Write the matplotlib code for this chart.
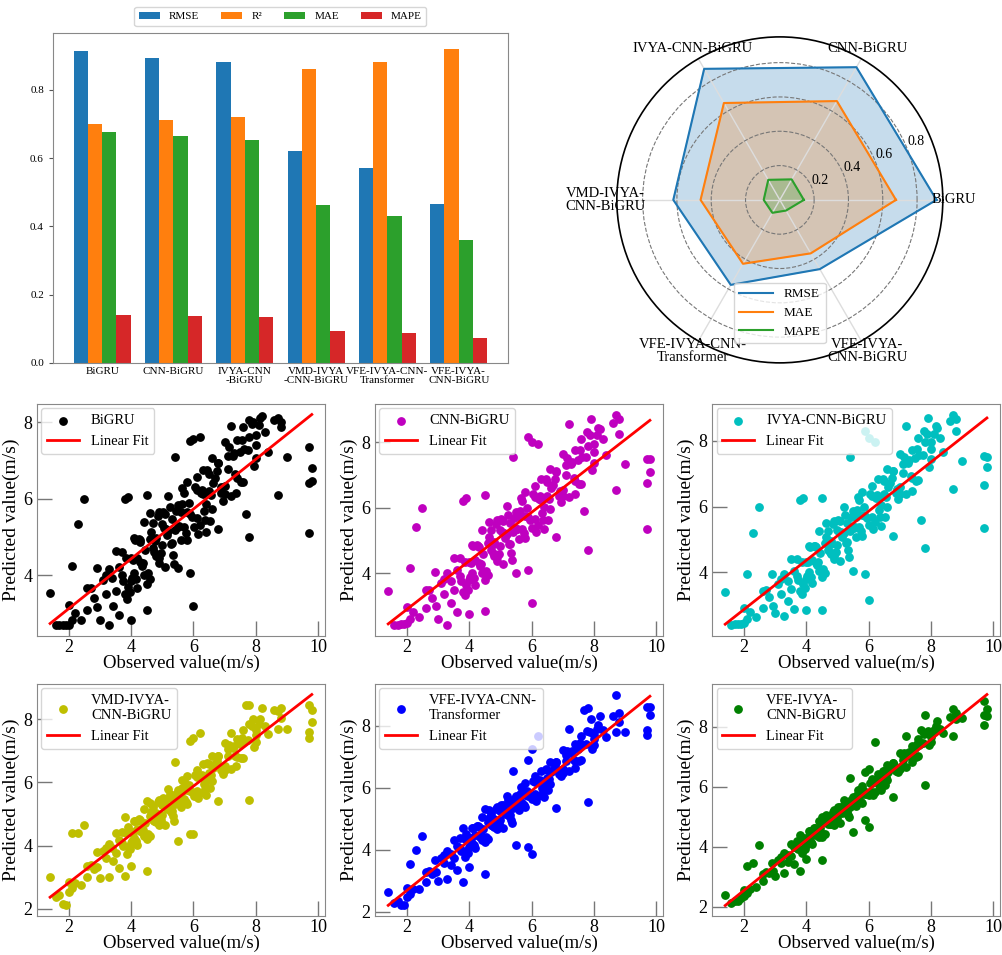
import numpy as np
import matplotlib
matplotlib.use("Agg")
import matplotlib.pyplot as plt
from matplotlib.ticker import MultipleLocator

plt.rcParams['font.family'] = ['Liberation Serif', 'DejaVu Serif']

# ---- metrics (bar + radar) ----
models = ['BiGRU', 'CNN-BiGRU', 'IVYA-CNN-BiGRU', 'VMD-IVYA-CNN-BiGRU',
          'VFE-IVYA-CNN-Transformer', 'VFE-IVYA-CNN-BiGRU']
bar_labels = ['BiGRU', 'CNN-BiGRU', 'IVYA-CNN\n-BiGRU', 'VMD-IVYA\n-CNN-BiGRU',
              'VFE-IVYA-CNN-\nTransformer', 'VFE-IVYA-\nCNN-BiGRU']
radar_labels = ['BiGRU', 'CNN-BiGRU', 'IVYA-CNN-BiGRU', 'VMD-IVYA-\nCNN-BiGRU',
                'VFE-IVYA-CNN-\nTransformer', 'VFE-IVYA-\nCNN-BiGRU']
rmse = [0.913, 0.893, 0.882, 0.621, 0.572, 0.466]
r2 = [0.700, 0.712, 0.720, 0.860, 0.881, 0.921]
mae = [0.677, 0.665, 0.652, 0.462, 0.430, 0.360]
mape = [0.140, 0.138, 0.135, 0.094, 0.087, 0.072]

# ---- observed vs predicted (same observed samples for every model) ----
observed = [
    1.4, 1.6, 1.7, 1.8, 1.9, 2.0, 2.0, 2.1, 2.1, 2.2, 2.3, 2.4, 2.5, 2.6, 2.6, 2.7, 2.8,
    2.9, 3.0, 3.1, 3.2, 3.3, 3.3, 3.4, 3.5, 3.5, 3.6, 3.7, 3.7,
    3.8, 3.8, 3.9, 3.9, 4.0, 4.0, 4.0, 4.1, 4.1, 4.2, 4.2, 4.3, 4.3, 4.4, 4.4, 4.5, 4.5,
    4.6, 4.6, 4.7, 4.7, 4.8, 4.8, 4.9, 4.9, 5.0, 5.0, 5.1, 5.1, 5.2, 5.2, 5.3, 5.3,
    5.4, 5.4, 5.5, 5.5, 5.6, 5.6, 5.7, 5.7, 5.8, 5.8, 5.9, 5.9, 6.0, 6.0,
    6.1, 6.1, 6.2, 6.2, 6.3, 6.3, 6.4, 6.4, 6.5, 6.5, 6.6, 6.6, 6.7,
    6.8, 6.8, 6.9, 7.0, 7.0, 7.1, 7.2, 7.2, 7.3, 7.4, 7.4, 7.5, 7.6, 7.6,
    7.7, 7.8, 7.8, 7.9, 8.0, 8.0, 8.1, 8.2, 8.3, 8.4, 8.6, 8.7, 8.7, 8.8, 8.8,
    9.0, 9.7, 9.7, 9.7, 9.8, 9.8,
    3.75, 3.85, 3.95, 4.05, 4.15, 4.25, 4.35, 4.45, 4.55, 4.65, 4.75, 4.85, 4.95,
    5.05, 5.15, 5.25, 5.35, 5.45, 5.55, 5.65, 5.75, 5.85, 5.95, 6.05, 6.15, 6.25,
    6.35, 6.45, 6.55, 6.75, 6.95, 7.15, 7.35, 7.55, 7.75, 7.95, 8.15,
    3.62, 3.88, 4.12, 4.38, 4.62, 4.88, 5.12, 5.38, 5.62, 5.88, 6.12, 6.38, 6.62,
    6.88, 7.12, 7.38, 7.62, 7.88, 4.02, 4.28, 4.52, 4.78, 5.02, 5.28, 5.52, 5.78,
    6.02, 6.28, 6.52, 6.78, 7.02, 7.28, 7.52, 7.78, 8.02, 3.42, 3.18, 2.92]

pred_bigru = [
    3.55, 2.70, 2.69, 2.70, 2.69, 3.22, 2.70, 4.25, 2.83, 3.02, 5.35, 2.83, 6.00, 3.68, 3.09, 3.68, 3.41,
    4.20, 2.84, 3.89, 3.51, 2.70, 4.17, 3.92, 4.64, 3.60, 2.97, 4.01, 4.60,
    6.00, 3.50, 6.05, 3.70, 2.84, 4.44, 3.85, 4.97, 4.06, 4.46, 3.67, 4.86, 4.34, 5.39, 4.02, 6.10, 3.10,
    4.95, 3.91, 5.36, 4.70, 4.97, 4.51, 5.64, 4.33, 5.33, 4.80, 5.59, 4.22, 5.15, 6.06, 4.83, 5.48,
    7.10, 5.19, 4.20, 5.84, 4.93, 5.65, 6.16, 5.25, 5.65, 4.93, 7.50, 4.05, 3.20, 7.55,
    6.22, 5.50, 7.60, 5.31, 6.11, 6.76, 5.85, 5.14, 6.65, 6.20, 5.74, 7.05, 6.54,
    5.20, 6.94, 6.30, 7.49, 6.12, 6.78, 7.90, 6.07, 7.19, 7.53, 6.55, 7.21, 7.87, 6.44,
    5.60, 5.00, 7.60, 8.00, 7.65, 7.06, 7.93, 8.15, 7.75, 7.23, 8.05, 6.10, 8.10, 8.00, 7.86,
    7.10, 5.10, 7.35, 6.40, 6.80, 6.45,
    3.86, 4.46, 3.56, 4.41, 3.90, 4.95, 4.25, 4.65, 4.07, 5.13, 4.61, 5.54, 4.57,
    5.24, 5.04, 5.78, 4.54, 5.67, 5.29, 6.27, 5.11, 5.90, 5.52, 6.31, 5.09, 6.14,
    5.69, 6.74, 6.10, 6.71, 5.95, 7.34, 6.64, 7.52, 7.28, 6.84, 8.10,
    4.21, 3.37, 4.92, 4.33, 5.62, 4.44, 5.22, 4.30, 5.85, 5.59, 6.56, 5.45, 6.42,
    6.15, 7.12, 6.14, 7.30, 7.95, 3.93, 4.91, 3.78, 4.90, 5.66, 4.82, 5.26, 6.43,
    5.25, 6.22, 5.42, 6.93, 6.32, 7.11, 6.44, 8.05, 7.40, 3.21, 4.01, 3.16]

pred_cnn = [
    3.45, 2.43, 2.43, 2.45, 2.46, 2.97, 2.48, 4.15, 2.61, 2.81, 5.40, 2.65, 6.00, 3.48, 2.92, 3.49, 3.25,
    4.02, 2.60, 3.71, 3.36, 2.40, 4.00, 3.77, 4.47, 3.48, 2.80, 3.90, 4.46,
    6.20, 3.43, 6.30, 3.64, 2.75, 4.35, 3.79, 4.87, 4.00, 4.39, 3.65, 4.79, 4.30, 5.31, 4.00, 6.40, 2.85,
    4.92, 3.93, 5.32, 4.70, 4.96, 4.53, 5.61, 4.37, 5.32, 4.82, 5.59, 4.29, 5.19, 6.06, 4.90, 5.52,
    7.55, 5.26, 4.00, 5.88, 5.03, 5.72, 6.22, 5.35, 5.74, 5.06, 8.15, 4.10, 3.10, 8.00,
    6.33, 5.65, 7.95, 5.48, 6.25, 6.87, 6.02, 5.34, 6.80, 6.36, 5.95, 7.19, 6.71,
    5.10, 7.11, 6.51, 7.65, 6.35, 7.00, 8.55, 6.34, 7.41, 7.75, 6.82, 7.46, 8.10, 6.73,
    5.90, 4.70, 7.90, 8.70, 7.94, 7.38, 8.23, 8.40, 8.09, 7.61, 8.60, 6.55, 8.85, 8.70, 8.26,
    7.35, 5.35, 7.50, 6.75, 7.10, 7.50,
    3.76, 4.34, 3.50, 4.32, 3.86, 4.87, 4.21, 4.60, 4.07, 5.09, 4.61, 5.51, 4.60,
    5.25, 5.08, 5.79, 4.63, 5.70, 5.36, 6.31, 5.23, 5.99, 5.64, 6.41, 5.26, 6.27,
    5.85, 6.87, 6.27, 6.88, 6.18, 7.53, 6.90, 7.75, 7.56, 7.16, 8.44,
    4.09, 3.32, 4.82, 4.29, 5.56, 4.48, 5.24, 4.41, 5.91, 5.71, 6.65, 5.63, 6.59,
    6.37, 7.32, 6.43, 7.56, 8.21, 3.87, 4.83, 3.79, 4.89, 5.65, 4.88, 5.34, 6.49,
    5.39, 6.36, 5.63, 7.09, 6.55, 7.33, 6.74, 8.32, 7.71, 3.10, 3.83, 2.99]

pred_ivya = [
    3.40, 2.39, 2.42, 2.43, 2.45, 2.93, 2.46, 3.95, 2.60, 2.79, 5.20, 2.65, 6.00, 3.44, 2.92, 3.46, 3.25,
    3.95, 2.76, 3.66, 3.34, 2.69, 3.95, 3.75, 4.42, 3.49, 2.90, 3.89, 4.41,
    6.20, 3.45, 6.25, 3.65, 2.85, 4.31, 3.79, 4.82, 4.01, 4.39, 3.69, 4.76, 4.29, 5.25, 4.04, 6.25, 2.85,
    4.90, 3.97, 5.27, 4.69, 4.96, 4.55, 5.56, 4.40, 5.30, 4.84, 5.56, 4.36, 5.19, 6.00, 4.93, 5.51,
    7.50, 5.26, 4.05, 5.87, 5.07, 5.70, 6.19, 5.38, 5.74, 5.10, 8.30, 3.95, 3.15, 8.10,
    6.32, 5.68, 7.95, 5.54, 6.26, 6.84, 6.06, 5.42, 6.77, 6.37, 5.99, 7.15, 6.72,
    5.10, 7.09, 6.54, 7.61, 6.39, 7.01, 8.45, 6.40, 7.42, 7.73, 6.86, 7.47, 8.08, 6.81,
    5.60, 4.75, 7.95, 8.70, 7.96, 7.44, 8.22, 8.40, 8.10, 7.67, 8.60, 6.55, 8.80, 8.65, 8.30,
    7.40, 5.35, 7.55, 6.65, 7.20, 7.50,
    3.76, 4.31, 3.53, 4.31, 3.87, 4.82, 4.22, 4.59, 4.10, 5.07, 4.63, 5.47, 4.62,
    5.23, 5.08, 5.75, 4.67, 5.69, 5.37, 6.28, 5.26, 5.98, 5.67, 6.38, 5.31, 6.27,
    5.89, 6.85, 6.29, 6.88, 6.24, 7.52, 6.93, 7.74, 7.57, 7.22, 8.44,
    4.05, 3.34, 4.77, 4.31, 5.49, 4.50, 5.24, 4.47, 5.90, 5.72, 6.62, 5.69, 6.59,
    6.41, 7.31, 6.49, 7.57, 8.21, 3.88, 4.80, 3.85, 4.88, 5.61, 4.91, 5.34, 6.44,
    5.44, 6.35, 5.69, 7.08, 6.59, 7.34, 6.79, 8.29, 7.75, 3.13, 3.79, 2.98]

pred_vmd = [
    3.00, 2.38, 2.42, 2.15, 2.10, 2.85, 2.53, 4.40, 2.65, 2.80, 4.40, 2.76, 4.65, 3.35, 2.99, 3.39, 3.27,
    3.78, 2.98, 3.82, 3.62, 3.01, 4.05, 3.93, 4.41, 3.77, 3.29, 4.08, 4.44,
    4.90, 3.05, 4.60, 3.96, 3.36, 4.44, 4.08, 4.79, 4.23, 4.51, 4.03, 4.79, 4.47, 5.15, 4.31, 5.40, 3.20,
    4.94, 4.30, 5.22, 4.82, 5.02, 4.74, 5.45, 4.65, 5.29, 4.97, 5.49, 4.65, 5.24, 5.80, 5.08, 5.48,
    6.65, 5.32, 4.15, 5.76, 5.23, 5.67, 6.03, 5.47, 5.75, 5.31, 7.30, 4.35, 4.35, 7.40,
    6.18, 5.74, 7.55, 5.66, 6.18, 6.58, 6.05, 5.61, 6.57, 6.29, 6.05, 6.85, 6.57,
    5.40, 6.84, 6.48, 7.24, 6.40, 6.84, 7.55, 6.43, 7.15, 7.39, 6.79, 7.23, 7.66, 6.78,
    8.45, 5.45, 8.45, 8.00, 7.65, 7.29, 7.85, 8.35, 7.80, 7.52, 8.28, 7.70, 8.25, 8.35, 8.03,
    7.70, 7.40, 8.45, 7.60, 7.90, 8.30,
    4.00, 4.40, 3.88, 4.43, 4.15, 4.83, 4.43, 4.70, 4.38, 5.06, 4.78, 5.37, 4.81,
    5.25, 5.17, 5.64, 4.92, 5.64, 5.44, 6.07, 5.39, 5.91, 5.71, 6.22, 5.50, 6.18,
    5.94, 6.61, 6.25, 6.68, 6.28, 7.19, 6.83, 7.42, 7.34, 7.13, 8.01,
    4.18, 3.74, 4.77, 4.49, 5.36, 4.72, 5.26, 4.78, 5.81, 5.73, 6.40, 5.80, 6.46,
    6.39, 7.05, 6.53, 7.32, 7.80, 4.13, 4.81, 4.20, 4.96, 5.51, 5.07, 5.41, 6.21,
    5.56, 6.24, 5.83, 6.83, 6.53, 7.09, 6.76, 7.84, 7.51, 3.51, 3.92, 3.32]

pred_vfe_trans = [
    2.65, 2.29, 2.33, 2.20, 2.20, 2.75, 2.47, 3.55, 2.58, 2.73, 4.00, 2.72, 4.45, 3.27, 2.95, 3.31, 3.21,
    3.68, 2.99, 3.74, 3.57, 3.05, 3.97, 3.87, 4.30, 3.74, 3.33, 4.04, 4.36,
    4.70, 2.95, 4.50, 3.95, 3.44, 4.39, 4.07, 4.71, 4.22, 4.48, 4.05, 4.73, 4.45, 5.06, 4.32, 5.30, 3.20,
    4.90, 4.34, 5.16, 4.80, 4.99, 4.74, 5.39, 4.68, 5.26, 4.97, 5.44, 4.70, 5.24, 5.73, 5.11, 5.46,
    6.55, 5.33, 4.15, 5.73, 5.28, 5.67, 5.99, 5.50, 5.76, 5.37, 6.90, 4.10, 3.85, 7.25,
    6.17, 5.78, 7.65, 5.72, 6.19, 6.54, 6.09, 5.71, 6.56, 6.32, 6.11, 6.82, 6.58,
    5.35, 6.84, 6.53, 7.21, 6.47, 6.87, 7.90, 6.52, 7.17, 7.39, 6.86, 7.26, 7.65, 6.88,
    8.50, 5.55, 8.55, 8.20, 7.69, 7.37, 7.88, 8.30, 7.86, 7.62, 8.31, 7.80, 9.00, 8.40, 8.12,
    7.80, 7.70, 8.60, 7.85, 8.35, 8.60,
    3.97, 4.34, 3.89, 4.39, 4.15, 4.76, 4.42, 4.68, 4.40, 5.01, 4.77, 5.31, 4.83,
    5.23, 5.16, 5.60, 4.97, 5.62, 5.45, 6.02, 5.43, 5.90, 5.73, 6.20, 5.58, 6.19,
    5.98, 6.59, 6.28, 6.69, 6.36, 7.19, 6.89, 7.44, 7.39, 7.23, 8.02,
    4.12, 3.76, 4.70, 4.47, 5.27, 4.73, 5.25, 4.85, 5.79, 5.74, 6.37, 5.86, 6.49,
    6.44, 7.06, 6.63, 7.36, 7.80, 4.12, 4.75, 4.24, 4.94, 5.45, 5.09, 5.43, 6.16,
    5.62, 6.24, 5.91, 6.82, 6.59, 7.11, 6.85, 7.83, 7.57, 3.50, 3.83, 3.28]

pred_vfe_bigru = [
    2.40, 2.12, 2.18, 2.20, 2.30, 2.56, 2.36, 3.35, 2.46, 2.60, 3.45, 2.65, 4.05, 3.10, 2.87, 3.15, 3.11,
    3.47, 3.01, 3.57, 3.47, 3.13, 3.79, 3.74, 4.08, 3.68, 3.41, 3.95, 4.18,
    4.40, 3.20, 4.30, 3.94, 3.60, 4.28, 4.05, 4.53, 4.18, 4.40, 4.09, 4.60, 4.40, 4.87, 4.34, 5.00, 3.55,
    4.81, 4.41, 5.02, 4.76, 4.93, 4.75, 5.24, 4.73, 5.18, 4.97, 5.33, 4.80, 5.21, 5.56, 5.15, 5.40,
    6.30, 5.33, 4.50, 5.65, 5.35, 5.63, 5.89, 5.54, 5.75, 5.47, 6.50, 4.90, 4.65, 6.60,
    6.12, 5.84, 7.50, 5.83, 6.19, 6.44, 6.15, 5.88, 6.51, 6.34, 6.22, 6.73, 6.58,
    5.65, 6.80, 6.60, 7.12, 6.59, 6.90, 7.70, 6.67, 7.17, 7.35, 6.97, 7.29, 7.59, 7.04,
    7.90, 6.05, 8.40, 7.85, 7.73, 7.50, 7.89, 8.20, 7.93, 7.79, 8.34, 7.70, 8.60, 8.46, 8.26,
    8.30, 8.05, 8.85, 8.40, 8.35, 8.60,
    3.91, 4.20, 3.91, 4.29, 4.15, 4.61, 4.40, 4.61, 4.43, 4.90, 4.75, 5.17, 4.85,
    5.17, 5.14, 5.49, 5.06, 5.56, 5.46, 5.89, 5.50, 5.86, 5.77, 6.13, 5.72, 6.18,
    6.06, 6.52, 6.32, 6.67, 6.49, 7.14, 6.98, 7.43, 7.45, 7.39, 8.01,
    3.98, 3.80, 4.53, 4.44, 5.07, 4.76, 5.20, 4.99, 5.72, 5.76, 6.27, 5.98, 6.49,
    6.53, 7.04, 6.81, 7.39, 7.78, 4.09, 4.62, 4.31, 4.89, 5.31, 5.13, 5.43, 6.03,
    5.71, 6.23, 6.05, 6.78, 6.67, 7.12, 6.99, 7.77, 7.65, 3.48, 3.66, 3.19]

scatter_labels = ['BiGRU', 'CNN-BiGRU', 'IVYA-CNN-BiGRU', 'VMD-IVYA-\nCNN-BiGRU',
                  'VFE-IVYA-CNN-\nTransformer', 'VFE-IVYA-\nCNN-BiGRU']
scatter_colors = ['k', 'm', 'c', 'y', 'b', 'g']
predictions = [pred_bigru, pred_cnn, pred_ivya, pred_vmd, pred_vfe_trans, pred_vfe_bigru]

fig = plt.figure(figsize=(10.03, 9.55), dpi=100)

# ---- grouped bar chart ----
ax_bar = fig.add_axes([0.0528, 0.620, 0.4536, 0.3455])
x = np.arange(len(models))
w = 0.2
ax_bar.bar(x - 1.5 * w, rmse, w, label='RMSE', color='#1f77b4')
ax_bar.bar(x - 0.5 * w, r2, w, label='R²', color='#ff7f0e')
ax_bar.bar(x + 0.5 * w, mae, w, label='MAE', color='#2ca02c')
ax_bar.bar(x + 1.5 * w, mape, w, label='MAPE', color='#d62728')
ax_bar.set_xticks(x)
ax_bar.set_xticklabels(bar_labels, fontsize=8, linespacing=1.0)
ax_bar.tick_params(axis='x', length=0, pad=3)
ax_bar.tick_params(axis='y', labelsize=8, length=3, color='#555555')
for s in ax_bar.spines.values():
    s.set_color('#888888')
ax_bar.legend(loc='lower center', bbox_to_anchor=(0.5, 1.005), ncol=4, fontsize=8,
              handlelength=1.9, columnspacing=2.0, borderaxespad=0.5)

# ---- radar chart ----
ax_rad = fig.add_axes([0.615, 0.620, 0.325, 0.3414], projection='polar')
angles = np.linspace(0, 2 * np.pi, len(models), endpoint=False)
ang_c = np.concatenate([angles, angles[:1]])
radar_series = [('RMSE', rmse, '#1f77b4'), ('MAE', mae, '#ff7f0e'), ('MAPE', mape, '#2ca02c')]
for name, vals, col in radar_series:
    v = np.concatenate([vals, vals[:1]])
    ax_rad.plot(ang_c, v, color=col, lw=1.5, label=name)
    ax_rad.fill(ang_c, v, color=col, alpha=0.25)
rmax = 0.95
ax_rad.set_ylim(0, rmax)
ax_rad.set_yticks([0.2, 0.4, 0.6, 0.8])
ax_rad.set_yticklabels(['0.2', '0.4', '0.6', '0.8'], fontsize=10)
ax_rad.set_rlabel_position(22)
ax_rad.set_xticks(angles)
ax_rad.set_xticklabels([])
ax_rad.yaxis.grid(True, linestyle='--', color='#777777', lw=0.8)
ax_rad.xaxis.grid(True, color='#dddddd', lw=1.0)
ax_rad.spines['polar'].set_color('black')
ax_rad.spines['polar'].set_linewidth(1.2)
for a, lab in zip(angles, radar_labels):
    ax_rad.text(a, rmax * 1.07, lab, ha='center', va='center', fontsize=10.5, linespacing=1.0)
ax_rad.legend(loc='lower center', bbox_to_anchor=(0.5, 0.04), fontsize=9.5, handlelength=2.6)

# ---- observed vs predicted scatter panels ----
lefts = [0.0369, 0.374, 0.710]
bottoms = [0.334, 0.0408]
obs = np.array(observed)
for i, (pred, lab, col) in enumerate(zip(predictions, scatter_labels, scatter_colors)):
    ax = fig.add_axes([lefts[i % 3], bottoms[i // 3], 0.287, 0.243])
    y = np.array(pred)
    ax.scatter(obs, y, s=28, color=col, label=lab, zorder=2)
    k, b = np.polyfit(obs, y, 1)
    xl = np.array([obs.min(), obs.max()])
    ax.plot(xl, k * xl + b, color='red', lw=2, label='Linear Fit', zorder=3)
    ax.xaxis.set_major_locator(MultipleLocator(2))
    ax.yaxis.set_major_locator(MultipleLocator(2))
    ax.tick_params(direction='in', length=11, width=1, color='#777777', labelsize=13)
    ax.tick_params(axis='x', pad=2)
    for s in ax.spines.values():
        s.set_color('#888888')
    ax.set_xlabel('Observed value(m/s)', fontsize=13.5, labelpad=-1)
    ax.set_ylabel('Predicted value(m/s)', fontsize=14, labelpad=2)
    ax.legend(loc='upper left', fontsize=10.5, handlelength=2.2, borderaxespad=0.3)

plt.savefig('out.png', dpi=100)
